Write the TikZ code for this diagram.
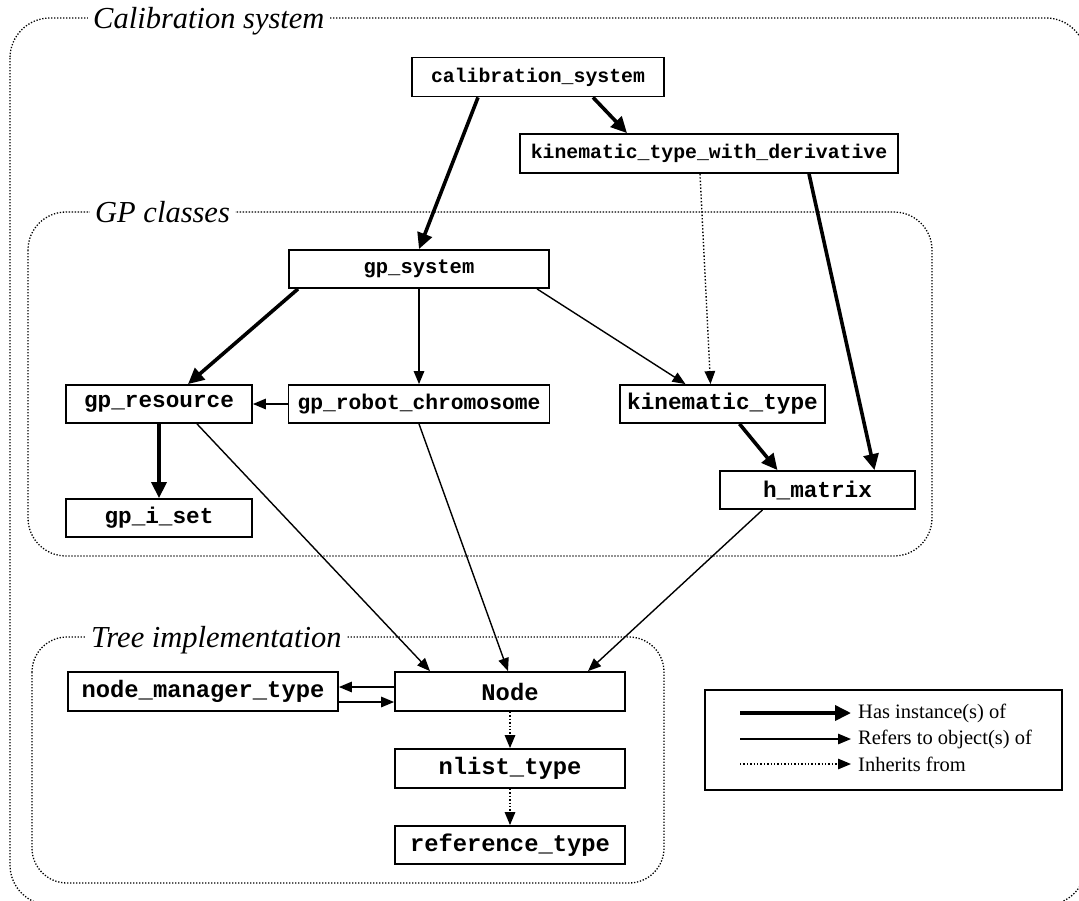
\documentclass[tikz,border=0pt]{standalone}
\usepackage{fontspec}
\setmainfont{Liberation Serif}
\setmonofont{Liberation Mono}
\usetikzlibrary{arrows.meta,calc}
\begin{document}
\begin{tikzpicture}[x=1pt,y=-1pt,
  cls/.style={draw, line width=1.8pt, inner sep=0pt, minimum height=39pt,
    font=\ttfamily\bfseries\fontsize{#1pt}{#1pt}\selectfont},
  frame/.style={line width=1.3pt, dash pattern=on 1.3pt off 1.7pt, rounded corners=#1},
  title/.style={fill=white, inner xsep=5pt, inner ysep=1pt, anchor=base west,
    font=\itshape\fontsize{30.5pt}{30.5pt}\selectfont},
  thickarrow/.style={line width=3.6pt, -{Triangle[length=16pt,width=15pt]}},
  thinarrow/.style={line width=1.4pt, -{Triangle[length=13pt,width=10.5pt]}},
  inharrow/.style={line width=1.4pt, dash pattern=on 1.4pt off 2pt, -{Triangle[length=13pt,width=10.5pt]}},
  legtext/.style={anchor=west, inner sep=0pt, font=\fontsize{20.5pt}{20.5pt}\selectfont}
]
\path[use as bounding box] (0,0) rectangle (1079,900);
\clip (0,0) rectangle (1079,900);

% frames
\draw[frame=40pt] (10,18) rectangle (1086,905);
\node[title] (tcal) at (88,28) {Calibration system};
\draw[frame=38pt] (28,212) rectangle (932,556);
\node[title] (tgp) at (90,222) {GP classes};
\draw[frame=35pt] (32,637) rectangle (664,883);
\node[title] (ttree) at (86,647) {Tree implementation};

% classes
\node[cls=19.8, minimum width=252pt] (cal) at (538,77) {calibration\_system};
\node[cls=19.8, minimum width=378pt] (ktwd) at (709,153.5) {kinematic\_type\_with\_derivative};
\node[cls=20.5, minimum width=260pt, minimum height=38pt] (gps) at (419,269) {gp\_system};
\node[cls=22.7, minimum width=186pt, minimum height=38pt] (gpr) at (159,404) {gp\_resource};
\node[cls=21.3, minimum width=261pt, minimum height=38pt] (grc) at (419,404) {gp\_robot\_chromosome};
\node[cls=22.7, minimum width=205pt, minimum height=38pt] (kt) at (722.5,404) {kinematic\_type};
\node[cls=22.7, minimum width=195pt, minimum height=38pt] (hm) at (817.5,490) {h\_matrix};
\node[cls=22.7, minimum width=186pt, minimum height=38pt] (gpis) at (159,518) {gp\_i\_set};
\node[cls=23.8, minimum width=270pt] (nmt) at (203,691.5) {node\_manager\_type};
\node[cls=23.8, minimum width=230pt] (node) at (510,691.5) {Node};
\node[cls=23.8, minimum width=230pt] (nlist) at (510,768.5) {nlist\_type};
\node[cls=23.8, minimum width=230pt, minimum height=38pt] (ref) at (510,845) {reference\_type};

% connectors
\draw[thickarrow] ([xshift=-60pt]cal.south) -- (gps.north);
\draw[thickarrow] ([xshift=55pt]cal.south) -- ([xshift=-82pt]ktwd.north);
\draw[inharrow] ([xshift=-9pt]ktwd.south) -- ([xshift=-12pt]kt.north);
\draw[thickarrow] ([xshift=100pt]ktwd.south) -- ([xshift=57pt]hm.north);
\draw[thickarrow] ([xshift=-121pt]gps.south) -- ([xshift=29pt]gpr.north);
\draw[thinarrow] (gps.south) -- (grc.north);
\draw[thinarrow] ([xshift=118pt]gps.south) -- ([xshift=-37pt]kt.north);
\draw[thinarrow] (grc.west) -- (gpr.east);
\draw[thickarrow] (gpr.south) -- (gpis.north);
\draw[thickarrow] ([xshift=17pt]kt.south) -- ([xshift=-40pt]hm.north);
\draw[thinarrow] ([xshift=38pt]gpr.south) -- ([xshift=-80pt]node.north);
\draw[thinarrow] (grc.south) -- ([xshift=-2pt]node.north);
\draw[thinarrow] ([xshift=-55pt]hm.south) -- ([xshift=78pt]node.north);
\draw[thinarrow] ([yshift=4.5pt]node.west) -- ([yshift=4.5pt]nmt.east);
\draw[thinarrow] ([yshift=-10.5pt]nmt.east) -- ([yshift=-10.5pt]node.west);
\draw[inharrow] (node.south) -- (nlist.north);
\draw[inharrow] (nlist.south) -- (ref.north);

% legend
\node[draw, line width=2pt, minimum width=357pt, minimum height=100pt, inner sep=0pt] (legend) at (883.5,740) {};
\node[legtext] (t1) at (858,713) {Has instance(s) of};
\node[legtext] (t2) at (858,739) {Refers to object(s) of};
\node[legtext] (t3) at (858,764) {Inherits from};
\coordinate (l1) at (740,713);
\coordinate (l2) at (740,739);
\coordinate (l3) at (740,764);
\draw[thickarrow] (l1) -- ([xshift=-7pt]t1.west);
\draw[thinarrow] (l2) -- ([xshift=-7pt]t2.west);
\draw[inharrow] (l3) -- ([xshift=-7pt]t3.west);
\end{tikzpicture}
\end{document}
